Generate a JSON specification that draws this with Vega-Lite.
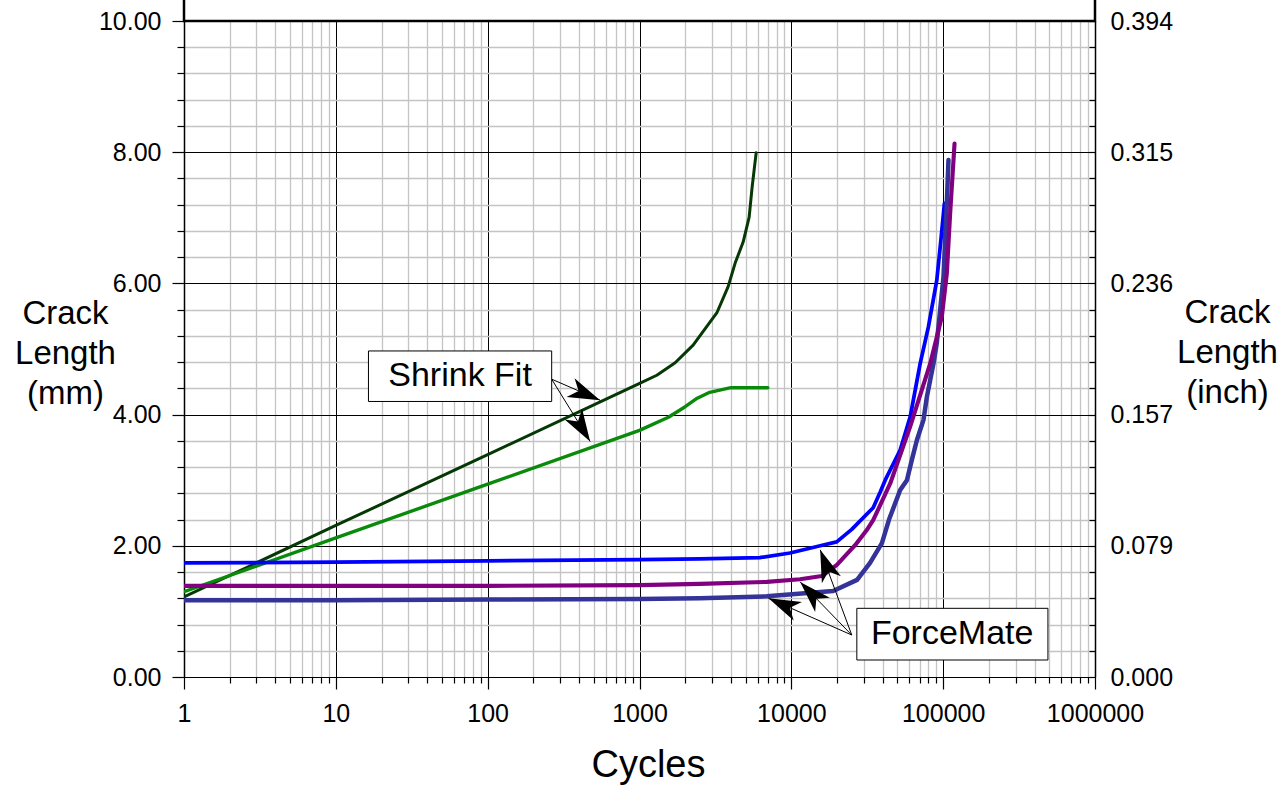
{
  "$schema": "https://vega.github.io/schema/vega-lite/v6.json",
  "width": 911,
  "height": 656,
  "autosize": {"type": "none"},
  "padding": {"left": 184, "top": 21, "right": 186, "bottom": 109},
  "background": "white",
  "config": {
    "font": "Liberation Sans",
    "view": {"stroke": null},
    "axis": {"labelFont": "Liberation Sans", "titleFont": "Liberation Sans", "labelColor": "black", "titleColor": "black", "titleFontWeight": "normal", "domainColor": "black", "tickColor": "black"}
  },
  "datasets": {
    "curves": [
      {"s": "SF1", "x": 1, "y": 1.22}, {"s": "SF1", "x": 10, "y": 2.31}, {"s": "SF1", "x": 100, "y": 3.39}, {"s": "SF1", "x": 1010, "y": 4.48}, {"s": "SF1", "x": 1300, "y": 4.6}, {"s": "SF1", "x": 1717, "y": 4.79}, {"s": "SF1", "x": 2255, "y": 5.06}, {"s": "SF1", "x": 3245, "y": 5.56}, {"s": "SF1", "x": 3835, "y": 5.95}, {"s": "SF1", "x": 4265, "y": 6.31}, {"s": "SF1", "x": 4815, "y": 6.63}, {"s": "SF1", "x": 5275, "y": 7.01}, {"s": "SF1", "x": 5520, "y": 7.47}, {"s": "SF1", "x": 5865, "y": 7.99},
      {"s": "SF2", "x": 1, "y": 1.3}, {"s": "SF2", "x": 10, "y": 2.12}, {"s": "SF2", "x": 100, "y": 2.94}, {"s": "SF2", "x": 1000, "y": 3.76}, {"s": "SF2", "x": 1550, "y": 3.96}, {"s": "SF2", "x": 2000, "y": 4.12}, {"s": "SF2", "x": 2400, "y": 4.25}, {"s": "SF2", "x": 2900, "y": 4.34}, {"s": "SF2", "x": 4000, "y": 4.41}, {"s": "SF2", "x": 7000, "y": 4.41},
      {"s": "FM1", "x": 1, "y": 1.74}, {"s": "FM1", "x": 10, "y": 1.75}, {"s": "FM1", "x": 100, "y": 1.77}, {"s": "FM1", "x": 1000, "y": 1.79}, {"s": "FM1", "x": 2500, "y": 1.8}, {"s": "FM1", "x": 6200, "y": 1.82}, {"s": "FM1", "x": 9800, "y": 1.89}, {"s": "FM1", "x": 15500, "y": 2.0}, {"s": "FM1", "x": 19900, "y": 2.06}, {"s": "FM1", "x": 25000, "y": 2.25}, {"s": "FM1", "x": 34600, "y": 2.58}, {"s": "FM1", "x": 38500, "y": 2.82}, {"s": "FM1", "x": 41500, "y": 3.0}, {"s": "FM1", "x": 52100, "y": 3.46}, {"s": "FM1", "x": 60700, "y": 3.97}, {"s": "FM1", "x": 70600, "y": 4.78}, {"s": "FM1", "x": 80000, "y": 5.34}, {"s": "FM1", "x": 90800, "y": 6.05}, {"s": "FM1", "x": 96600, "y": 6.66}, {"s": "FM1", "x": 101900, "y": 7.22},
      {"s": "FM3", "x": 1, "y": 1.17}, {"s": "FM3", "x": 10, "y": 1.17}, {"s": "FM3", "x": 100, "y": 1.18}, {"s": "FM3", "x": 1000, "y": 1.19}, {"s": "FM3", "x": 2500, "y": 1.2}, {"s": "FM3", "x": 6900, "y": 1.23}, {"s": "FM3", "x": 18850, "y": 1.31}, {"s": "FM3", "x": 27100, "y": 1.48}, {"s": "FM3", "x": 33000, "y": 1.74}, {"s": "FM3", "x": 39500, "y": 2.04}, {"s": "FM3", "x": 44000, "y": 2.4}, {"s": "FM3", "x": 52100, "y": 2.85}, {"s": "FM3", "x": 57700, "y": 3.0}, {"s": "FM3", "x": 62200, "y": 3.31}, {"s": "FM3", "x": 67100, "y": 3.61}, {"s": "FM3", "x": 74200, "y": 3.92}, {"s": "FM3", "x": 78100, "y": 4.27}, {"s": "FM3", "x": 86400, "y": 4.78}, {"s": "FM3", "x": 90800, "y": 5.09}, {"s": "FM3", "x": 95500, "y": 5.59}, {"s": "FM3", "x": 100500, "y": 6.1}, {"s": "FM3", "x": 103000, "y": 6.66}, {"s": "FM3", "x": 105700, "y": 7.22}, {"s": "FM3", "x": 108400, "y": 7.88},
      {"s": "FM2", "x": 1, "y": 1.39}, {"s": "FM2", "x": 10, "y": 1.39}, {"s": "FM2", "x": 100, "y": 1.39}, {"s": "FM2", "x": 1000, "y": 1.4}, {"s": "FM2", "x": 2500, "y": 1.42}, {"s": "FM2", "x": 6900, "y": 1.45}, {"s": "FM2", "x": 11400, "y": 1.49}, {"s": "FM2", "x": 15900, "y": 1.54}, {"s": "FM2", "x": 19950, "y": 1.71}, {"s": "FM2", "x": 26300, "y": 2.01}, {"s": "FM2", "x": 31400, "y": 2.24}, {"s": "FM2", "x": 34600, "y": 2.39}, {"s": "FM2", "x": 44800, "y": 2.95}, {"s": "FM2", "x": 60700, "y": 3.82}, {"s": "FM2", "x": 82200, "y": 4.78}, {"s": "FM2", "x": 98000, "y": 5.49}, {"s": "FM2", "x": 105700, "y": 6.15}, {"s": "FM2", "x": 111200, "y": 7.07}, {"s": "FM2", "x": 118800, "y": 8.13}
    ],
    "boxes": [
      {"x": 16.4, "x2": 264, "y": 4.97, "y2": 4.2},
      {"x": 27000, "x2": 489800, "y": 1.047, "y2": 0.259}
    ],
    "labels": [
      {"x": 65.8, "y": 4.59, "t": "Shrink Fit"},
      {"x": 114600, "y": 0.655, "t": "ForceMate"}
    ],
    "shafts": [
      {"x": 264, "y": 4.54, "x2": 550, "y2": 4.22},
      {"x": 264, "y": 4.54, "x2": 473, "y2": 3.59},
      {"x": 25000, "y": 0.64, "x2": 7070, "y2": 1.2},
      {"x": 25000, "y": 0.64, "x2": 11430, "y2": 1.45},
      {"x": 25000, "y": 0.64, "x2": 15490, "y2": 1.94}
    ],
    "heads": [
      {"x": 550, "y": 4.22, "a": 113},
      {"x": 473, "y": 3.59, "a": 148.5},
      {"x": 7070, "y": 1.2, "a": 293.8},
      {"x": 11430, "y": 1.45, "a": 315.9},
      {"x": 15490, "y": 1.94, "a": 339.5}
    ],
    "topbox": [
      {"x": 1, "x2": 1000000, "y": 10, "y2": 10.8}
    ]
  },
  "layer": [
    {
      "layer": [
        {
          "data": {"name": "curves"},
          "mark": {"type": "line", "clip": true, "strokeJoin": "round", "strokeCap": "round"},
          "encoding": {
            "x": {
              "field": "x", "type": "quantitative",
              "scale": {"type": "log", "domain": [1, 1000000], "nice": false},
              "axis": {
                "values": [1,2,3,4,5,6,7,8,9,10,20,30,40,50,60,70,80,90,100,200,300,400,500,600,700,800,900,1000,2000,3000,4000,5000,6000,7000,8000,9000,10000,20000,30000,40000,50000,60000,70000,80000,90000,100000,200000,300000,400000,500000,600000,700000,800000,900000,1000000],
                "tickCount": 200,
                "labelExpr": "indexof([1,10,100,1000,10000,100000,1000000], datum.value) >= 0 ? format(datum.value, 'd') : ''",
                "labelFontSize": 25,
                "labelOverlap": false,
                "labelFlush": false,
                "labelBound": false,
                "labelPadding": 12,
                "grid": true,
                "gridColor": {"condition": {"test": "indexof([1,10,100,1000,10000,100000,1000000], datum.value) >= 0", "value": "#000000"}, "value": "#c4c4c4"},
                "gridWidth": {"condition": {"test": "indexof([1,10,100,1000,10000,100000,1000000], datum.value) >= 0", "value": 1}, "value": 1.3},
                "tickSize": {"condition": {"test": "indexof([1,10,100,1000,10000,100000,1000000], datum.value) >= 0", "value": 12}, "value": 6},
                "tickWidth": 1.2,
                "domainWidth": 1.2,
                "title": "Cycles",
                "titleFontSize": 38,
                "titleX": 464,
                "titleY": 88,
                "titleBaseline": "middle",
                "titleAlign": "center"
              }
            },
            "y": {
              "field": "y", "type": "quantitative",
              "scale": {"domain": [0, 10], "nice": false, "zero": false},
              "axis": {
                "values": [0,0.4,0.8,1.2,1.6,2,2.4,2.8,3.2,3.6,4,4.4,4.8,5.2,5.6,6,6.4,6.8,7.2,7.6,8,8.4,8.8,9.2,9.6,10],
                "tickCount": 200,
                "labelExpr": "abs(datum.value / 2 - round(datum.value / 2)) < 0.01 ? format(datum.value, '.2f') : ''",
                "labelFontSize": 25,
                "labelOverlap": false,
                "labelFlush": false,
                "labelBound": false,
                "labelPadding": 11,
                "grid": true,
                "gridColor": {"condition": {"test": "abs(datum.value / 2 - round(datum.value / 2)) < 0.01", "value": "#000000"}, "value": "#c4c4c4"},
                "gridWidth": {"condition": {"test": "abs(datum.value / 2 - round(datum.value / 2)) < 0.01", "value": 1}, "value": 1.3},
                "tickSize": {"condition": {"test": "abs(datum.value / 2 - round(datum.value / 2)) < 0.01", "value": 12}, "value": 7},
                "tickWidth": 1.2,
                "domainWidth": 1.5,
                "title": ["Crack", "Length", "(mm)"],
                "titleFontSize": 33,
                "titleLineHeight": 40,
                "titleAngle": 0,
                "titleAlign": "center",
                "titleBaseline": "middle",
                "titleX": -119,
                "titleY": 292
              }
            },
            "color": {"field": "s", "type": "nominal", "legend": null,
              "scale": {"domain": ["SF1", "SF2", "FM1", "FM2", "FM3"], "range": ["#053805", "#0a8a0a", "#0000ff", "#800080", "#333399"]}},
            "strokeWidth": {"field": "s", "type": "nominal", "legend": null,
              "scale": {"domain": ["SF1", "SF2", "FM1", "FM2", "FM3"], "range": [3, 4.5, 3.2, 5, 5.5]}}
          }
        },
        {
          "data": {"name": "shafts"},
          "mark": {"type": "rule", "color": "black", "strokeWidth": 1},
          "encoding": {
            "x": {"field": "x", "type": "quantitative"},
            "y": {"field": "y", "type": "quantitative"},
            "x2": {"field": "x2"},
            "y2": {"field": "y2"}
          }
        },
        {
          "data": {"name": "heads"},
          "mark": {"type": "point", "shape": "M0,0L0.7,2.2L0,1.6L-0.7,2.2Z", "filled": true, "color": "black", "opacity": 1, "size": 850},
          "encoding": {
            "x": {"field": "x", "type": "quantitative"},
            "y": {"field": "y", "type": "quantitative"},
            "angle": {"field": "a", "type": "quantitative", "scale": null}
          }
        },
        {
          "data": {"name": "boxes"},
          "mark": {"type": "rect", "fill": "white", "stroke": "black", "strokeWidth": 1},
          "encoding": {
            "x": {"field": "x", "type": "quantitative"},
            "x2": {"field": "x2"},
            "y": {"field": "y", "type": "quantitative"},
            "y2": {"field": "y2"}
          }
        },
        {
          "data": {"name": "labels"},
          "mark": {"type": "text", "fontSize": 34, "font": "Liberation Sans", "color": "black", "align": "center", "baseline": "middle"},
          "encoding": {
            "x": {"field": "x", "type": "quantitative"},
            "y": {"field": "y", "type": "quantitative"},
            "text": {"field": "t"}
          }
        }
      ]
    },
    {
      "data": {"name": "topbox"},
      "mark": {"type": "rect", "fill": "white", "stroke": "black", "strokeWidth": 2.5, "clip": false},
      "encoding": {
        "x": {"field": "x", "type": "quantitative"},
        "x2": {"field": "x2"},
        "y": {
          "field": "y", "type": "quantitative",
          "scale": {"domain": [0, 10], "nice": false, "zero": false},
          "axis": {
            "orient": "right",
            "values": [0,0.4,0.8,1.2,1.6,2,2.4,2.8,3.2,3.6,4,4.4,4.8,5.2,5.6,6,6.4,6.8,7.2,7.6,8,8.4,8.8,9.2,9.6,10],
            "tickCount": 200,
            "labelExpr": "abs(datum.value / 2 - round(datum.value / 2)) < 0.01 ? format(datum.value / 25.4, '.3f') : ''",
            "labelFontSize": 25,
            "labelOverlap": false,
            "labelFlush": false,
            "labelBound": false,
            "labelPadding": 21,
            "grid": false,
            "tickSize": -6,
            "tickWidth": 1.2,
            "domainWidth": 1.5,
            "title": ["Crack", "Length", "(inch)"],
            "titleFontSize": 33,
            "titleLineHeight": 40,
            "titleAngle": 0,
            "titleAlign": "center",
            "titleBaseline": "middle",
            "titleX": 132,
            "titleY": 291
          }
        },
        "y2": {"field": "y2"}
      }
    }
  ],
  "resolve": {"axis": {"y": "independent"}}
}
